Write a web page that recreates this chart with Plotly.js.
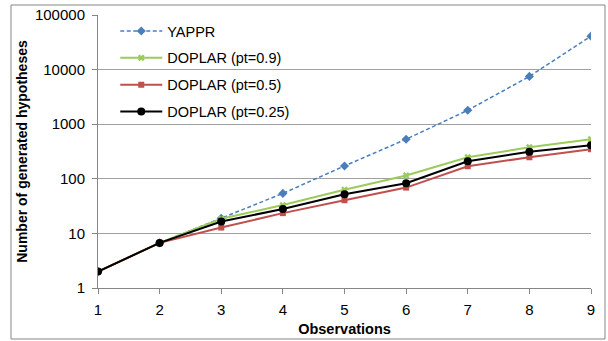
<!DOCTYPE html>
<html>
<head>
<meta charset="utf-8">
<script src="https://cdn.plot.ly/plotly-3.0.1.min.js"></script>
<style>html,body{margin:0;padding:0;background:#fff;}#chart{width:608px;height:341px;}</style>
</head>
<body>
<div id="chart"></div>
<script>
const observations = [1, 2, 3, 4, 5, 6, 7, 8, 9];
const seriesNames = ["YAPPR", "DOPLAR (pt=0.9)", "DOPLAR (pt=0.5)", "DOPLAR (pt=0.25)"];
const yappr = [2, 6.7, 19, 54, 172, 530, 1800, 7500, 41000];
const doplar09 = [2, 6.7, 18.5, 33, 63, 115, 248, 378, 530];
const doplar05 = [2, 6.7, 12.8, 23.5, 40.5, 69, 170, 248, 348];
const doplar025 = [2, 6.7, 16.5, 28, 52, 83, 210, 314, 411];
const yTickVals = [1, 10, 100, 1000, 10000, 100000];
const yTickText = ["1", "10", "100", "1000", "10000", "100000"];

const FONT = "Liberation Sans, Arial, sans-serif";
const traces = [
  {x: observations, y: yappr, name: seriesNames[0], mode: "lines+markers",
   line: {color: "#4A7EBB", width: 1.5, dash: "4px,2.5px"},
   marker: {symbol: "diamond", size: 7, color: "#4A7EBB"}, legendgroup: "a"},
  {x: observations, y: doplar09, name: seriesNames[1], mode: "lines+markers",
   line: {color: "#9BCB5A", width: 2},
   marker: {symbol: "x", size: 6, color: "#9BCB5A"}, legendgroup: "b"},
  {x: observations, y: doplar05, name: seriesNames[2], mode: "lines+markers",
   line: {color: "#C0504D", width: 2},
   marker: {symbol: "square", size: 6, color: "#C0504D"}, legendgroup: "c"},
  {x: observations, y: doplar025, name: seriesNames[3], mode: "lines+markers",
   line: {color: "#000000", width: 2},
   marker: {symbol: "circle", size: 8, color: "#000000"}, legendgroup: "d"}
];

const layout = {
  width: 608, height: 341,
  margin: {l: 98, r: 17, t: 15, b: 53},
  paper_bgcolor: "#fff", plot_bgcolor: "#fff",
  font: {family: FONT, size: 14, color: "#000"},
  showlegend: true,
  legend: {x: 0.035, y: 1.0, xanchor: "left", yanchor: "top",
           bgcolor: "rgba(0,0,0,0)", font: {size: 14.5}, tracegroupgap: 5, itemwidth: 42},
  xaxis: {
    range: [1, 9], tickvals: observations, ticktext: observations.map(String),
    showgrid: false, zeroline: false, showline: true, linecolor: "#868686", linewidth: 1,
    ticks: "outside", ticklen: 5, tickcolor: "#868686",
    tickfont: {size: 15}, ticklabelstandoff: 3,
    title: {text: "<b>Observations</b>", font: {size: 14.5}, standoff: 6}
  },
  yaxis: {
    type: "log", range: [0, 5], tickvals: yTickVals, ticktext: yTickText,
    showgrid: true, gridcolor: "#A0A0A0", gridwidth: 1,
    zeroline: false, showline: true, linecolor: "#868686", linewidth: 1,
    ticks: "outside", ticklen: 5, tickcolor: "#868686",
    tickfont: {size: 15}, ticklabelstandoff: 4,
    title: {text: "<b>Number of generated hypotheses</b>", font: {size: 14}, standoff: 4}
  },
  shapes: [
    {type: "rect", xref: "paper", yref: "paper", x0: -0.1765, x1: 1.0284, y0: -0.1868, y1: 1.0366,
     line: {color: "#868686", width: 1}, fillcolor: "rgba(0,0,0,0)"}
  ]
};

Plotly.newPlot("chart", traces, layout, {displayModeBar: false, staticPlot: true});
</script>
</body>
</html>
